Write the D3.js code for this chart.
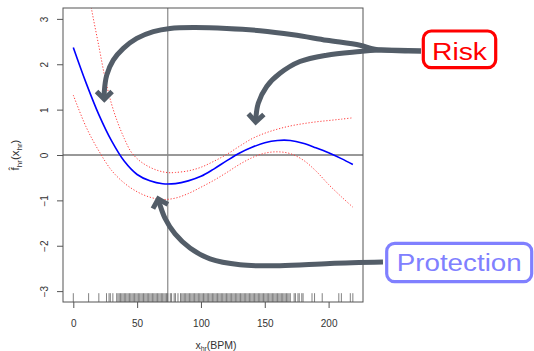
<!DOCTYPE html>
<html>
<head>
<meta charset="utf-8">
<script src="https://cdn.jsdelivr.net/npm/d3@7"></script>
<style>
  html, body { margin: 0; padding: 0; background: #fff; }
  svg { display: block; font-family: "Liberation Sans", Arial, sans-serif; }
</style>
</head>
<body>
<svg id="chart" width="534" height="351"></svg>
<script>
// ---- data ----
const gridX   = [0, 10, 20, 30, 40, 50, 60, 70, 80, 90, 100, 110, 120, 130, 140, 150, 160, 170, 180, 190, 200, 210, 219];
const fitY    = [2.37, 1.59, 0.89, 0.31, -0.14, -0.43, -0.57, -0.635, -0.63, -0.57, -0.47, -0.31, -0.13, 0.04, 0.17, 0.27, 0.32, 0.32, 0.26, 0.16, 0.05, -0.08, -0.21];
const upperX  = [0, 5, 10, 14.4, 20, 25, 30, 35, 40, 45, 50, 55, 60, 65, 70, 75, 80, 90, 100, 110, 120, 130, 140, 150, 160, 170, 180, 190, 200, 210, 219];
const upperY  = [5.6, 4.75, 3.95, 3.2, 2.4, 1.68, 1.12, 0.70, 0.36, 0.08, -0.08, -0.19, -0.27, -0.33, -0.37, -0.39, -0.385, -0.35, -0.27, -0.14, 0.01, 0.19, 0.36, 0.48, 0.57, 0.64, 0.69, 0.73, 0.76, 0.79, 0.82];
const lowerY  = [1.32, 0.62, 0.09, -0.34, -0.62, -0.81, -0.93, -0.98, -0.95, -0.85, -0.71, -0.56, -0.39, -0.21, -0.06, 0.04, 0.07, 0.03, -0.11, -0.35, -0.65, -0.92, -1.15];
const rugX = [0, 12, 20, 26, 28, 29, 31,
  34, 35, 36, 37, 38, 39, 40, 41, 42, 43, 44, 45, 46, 47, 48, 49, 50, 51, 52, 53, 54, 55, 56, 57, 58, 59,
  60, 61, 62, 63, 64, 65, 66, 67, 68, 69, 70, 71, 72, 73, 74, 76, 77, 79, 80, 82,
  84, 85, 86, 87, 88, 89, 90, 91, 92, 93, 94, 95, 96, 97, 98, 99, 100, 101, 102, 103, 104, 105, 106, 107, 108, 109,
  110, 111, 112, 113, 114, 115, 116, 117, 118, 119, 120, 121, 122, 123, 124, 125, 126, 127, 128, 129, 130, 131, 132, 133, 134,
  135, 136, 137, 138, 139, 140, 141, 142, 143, 144, 145, 146, 147, 148, 149, 150, 151, 152, 153, 154, 155, 156, 157, 158, 159,
  160, 161, 162, 163, 164, 165, 166, 167, 168, 169, 170,
  173, 174, 176, 177, 179, 180, 187, 189, 195, 208, 210, 217, 219];
const xTicks = [0, 50, 100, 150, 200];
const yTicks = [-3, -2, -1, 0, 1, 2, 3];
const vLineX = 74;
const hLineY = 0;
// annotation arrows (data units)
const riskArrow1 = [[272.4, 2.29], [236.2, 2.33], [224.6, 2.42], [198.5, 2.53], [172.3, 2.65], [146.3, 2.74], [120.2, 2.79], [94.0, 2.81], [75.8, 2.79], [62.7, 2.72], [49.7, 2.57], [39.2, 2.35], [31.3, 2.09], [26.2, 1.76], [24.3, 1.40], [24.3, 1.23]];
const riskArrow2 = [[272.4, 2.29], [236.2, 2.31], [224.6, 2.28], [198.5, 2.20], [177.5, 2.06], [161.9, 1.80], [151.5, 1.51], [144.9, 1.14], [143.1, 0.84], [142.9, 0.73]];
const protArrow  = [[242.6, -2.36], [201.1, -2.39], [161.9, -2.44], [130.6, -2.42], [107.1, -2.29], [91.4, -2.05], [79.7, -1.74], [71.8, -1.39], [67.9, -1.10], [66.6, -0.97]];

// ---- layout ----
const L = 63, R = 363, T = 8, B = 302;
const svg = d3.select("#chart");
const x = d3.scaleLinear().domain([-8.07, 226.95]).range([L, R]);
const y = d3.scaleLinear().domain([-3.24, 3.24]).range([B, T]);

svg.append("defs").append("clipPath").attr("id", "plotclip")
  .append("rect").attr("x", L).attr("y", T).attr("width", R - L).attr("height", B - T);

// reference lines
svg.append("line").attr("x1", L).attr("x2", R).attr("y1", y(hLineY)).attr("y2", y(hLineY))
  .attr("stroke", "#333").attr("stroke-width", 1);
svg.append("line").attr("x1", x(vLineX)).attr("x2", x(vLineX)).attr("y1", T).attr("y2", B)
  .attr("stroke", "#888").attr("stroke-width", 1.2);

// rug
svg.append("g").selectAll("line").data(rugX).join("line")
  .attr("x1", d => x(d)).attr("x2", d => x(d))
  .attr("y1", B).attr("y2", B - 8.8)
  .attr("stroke", "#555").attr("stroke-width", 0.75);

// curves
const g = svg.append("g").attr("clip-path", "url(#plotclip)");
const line = d3.line().x(d => x(d[0])).y(d => y(d[1])).curve(d3.curveCatmullRom.alpha(0.5));
g.append("path").attr("d", line(upperX.map((v, i) => [v, upperY[i]])))
  .attr("fill", "none").attr("stroke", "#ff3b3b").attr("stroke-width", 1).attr("stroke-dasharray", "1.2,1.8");
g.append("path").attr("d", line(gridX.map((v, i) => [v, lowerY[i]])))
  .attr("fill", "none").attr("stroke", "#ff3b3b").attr("stroke-width", 1).attr("stroke-dasharray", "1.2,1.8");
g.append("path").attr("d", line(gridX.map((v, i) => [v, fitY[i]])))
  .attr("fill", "none").attr("stroke", "#0000ff").attr("stroke-width", 1.6);

// frame
svg.append("rect").attr("x", L).attr("y", T).attr("width", R - L).attr("height", B - T)
  .attr("fill", "none").attr("stroke", "#555").attr("stroke-width", 1);

// axes
const yAxis = svg.append("g").attr("transform", `translate(${L},0)`)
  .call(d3.axisLeft(y).tickValues(yTicks).tickSize(6).tickFormat(d3.format("d")));
yAxis.select(".domain").remove();
yAxis.selectAll(".tick line").attr("stroke", "#555");
yAxis.selectAll(".tick text")
  .attr("x", null).attr("dy", null).attr("y", null)
  .attr("transform", "translate(-15.5,0) rotate(-90)")
  .attr("text-anchor", "middle")
  .attr("font-size", 10).attr("font-family", "Liberation Sans, Arial, sans-serif")
  .attr("fill", "#333");

const xAxis = svg.append("g").attr("transform", `translate(0,${B})`)
  .call(d3.axisBottom(x).tickValues(xTicks).tickSize(6).tickFormat(d3.format("d")));
xAxis.select(".domain").remove();
xAxis.selectAll(".tick line").attr("stroke", "#555");
xAxis.selectAll(".tick text")
  .attr("y", 24.7).attr("dy", null)
  .attr("font-size", 10).attr("font-family", "Liberation Sans, Arial, sans-serif")
  .attr("fill", "#333");

// axis titles
const xt = svg.append("text").attr("x", 216).attr("y", 348.5).attr("text-anchor", "middle")
  .attr("font-size", 10.5).attr("fill", "#333");
xt.append("tspan").text("x");
xt.append("tspan").attr("font-size", 7).attr("dy", 2).text("hr");
xt.append("tspan").attr("dy", -2).text("(BPM)");

const yt = svg.append("text").attr("transform", `translate(19,${y(0)}) rotate(-90)`)
  .attr("text-anchor", "middle").attr("font-size", 11.5).attr("fill", "#333");
yt.append("tspan").text("f\u0302");
yt.append("tspan").attr("font-size", 8).attr("dy", 2.5).text("hr");
yt.append("tspan").attr("dy", -2.5).text("(x");
yt.append("tspan").attr("font-size", 8).attr("dy", 2.5).text("hr");
yt.append("tspan").attr("dy", -2.5).text(")");

// annotation arrows
const arrowColor = "#535d68";
const aLine = d3.line().x(d => x(d[0])).y(d => y(d[1])).curve(d3.curveCatmullRom.alpha(0.5));
function arrow(pts) {
  svg.append("path").attr("d", aLine(pts)).attr("fill", "none")
    .attr("stroke", arrowColor).attr("stroke-width", 5).attr("stroke-linecap", "butt");
  const n = pts.length;
  const tx = x(pts[n - 1][0]), ty = y(pts[n - 1][1]);
  const px = x(pts[n - 2][0]), py = y(pts[n - 2][1]);
  const ang = Math.atan2(ty - py, tx - px);
  const len = 11, spread = Math.PI / 4;
  const w1 = [tx - len * Math.cos(ang - spread), ty - len * Math.sin(ang - spread)];
  const w2 = [tx - len * Math.cos(ang + spread), ty - len * Math.sin(ang + spread)];
  svg.append("path").attr("d", `M${w1[0]},${w1[1]}L${tx},${ty}L${w2[0]},${w2[1]}`)
    .attr("fill", "none").attr("stroke", arrowColor).attr("stroke-width", 5)
    .attr("stroke-linejoin", "miter").attr("stroke-linecap", "butt");
}
arrow(riskArrow1);
arrow(riskArrow2);
arrow(protArrow);

// annotation boxes
svg.append("rect").attr("x", 423.3).attr("y", 31).attr("width", 72.4).attr("height", 36.7).attr("rx", 8)
  .attr("fill", "#fff").attr("stroke", "#ff0000").attr("stroke-width", 3.2);
svg.append("text").attr("x", 459.5).attr("y", 59.5).attr("text-anchor", "middle")
  .attr("font-size", 23).attr("fill", "#ff0000")
  .attr("textLength", 55).attr("lengthAdjust", "spacingAndGlyphs").text("Risk");

svg.append("rect").attr("x", 386.7).attr("y", 243.3).attr("width", 145).attr("height", 38.4).attr("rx", 8)
  .attr("fill", "#fff").attr("stroke", "#8080ff").attr("stroke-width", 3.2);
svg.append("text").attr("x", 459.2).attr("y", 270.5).attr("text-anchor", "middle")
  .attr("font-size", 23).attr("fill", "#8080ff")
  .attr("textLength", 125).attr("lengthAdjust", "spacingAndGlyphs").text("Protection");
</script>
</body>
</html>
